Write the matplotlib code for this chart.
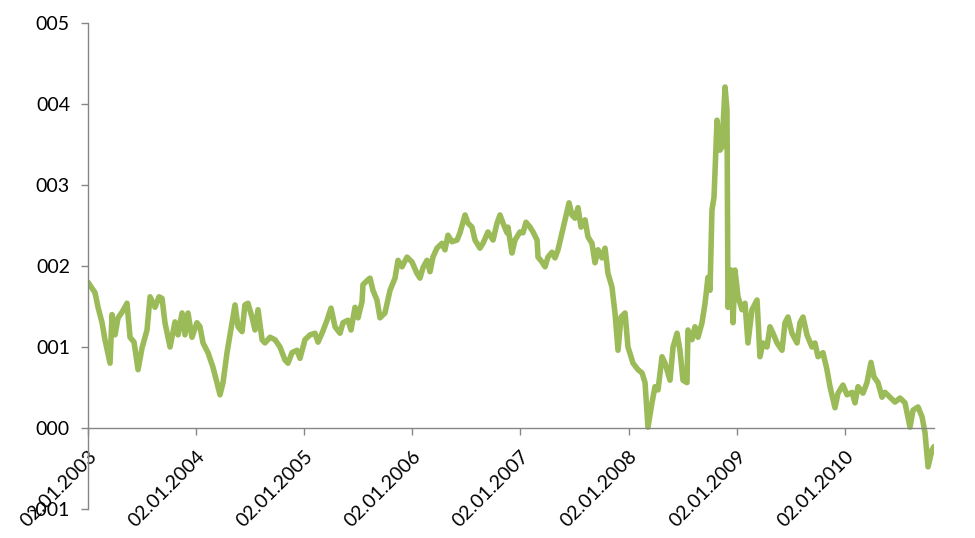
import matplotlib
matplotlib.use("Agg")
import matplotlib.pyplot as plt

# decimal years and values
years = [
    2003.000, 2003.065, 2003.093, 2003.130, 2003.157, 2003.204, 2003.222, 2003.250,
    2003.278, 2003.315, 2003.361, 2003.389, 2003.426, 2003.463, 2003.500, 2003.546,
    2003.574, 2003.620, 2003.657, 2003.685, 2003.712, 2003.759, 2003.805, 2003.833,
    2003.870, 2003.897, 2003.925, 2003.962, 2004.008, 2004.036, 2004.064, 2004.110,
    2004.156, 2004.193, 2004.221, 2004.249, 2004.286, 2004.332, 2004.360, 2004.388,
    2004.425, 2004.452, 2004.480, 2004.517, 2004.545, 2004.573, 2004.610, 2004.637,
    2004.684, 2004.730, 2004.776, 2004.822, 2004.850, 2004.887, 2004.933, 2004.961,
    2005.007, 2005.054, 2005.100, 2005.128, 2005.165, 2005.211, 2005.248, 2005.285,
    2005.331, 2005.359, 2005.405, 2005.433, 2005.470, 2005.498, 2005.535, 2005.544,
    2005.590, 2005.609, 2005.636, 2005.673, 2005.701, 2005.747, 2005.794, 2005.840,
    2005.868, 2005.905, 2005.951, 2005.997, 2006.043, 2006.071, 2006.099, 2006.136,
    2006.164, 2006.191, 2006.228, 2006.275, 2006.302, 2006.330, 2006.367, 2006.414,
    2006.441, 2006.488, 2006.515, 2006.552, 2006.580, 2006.626, 2006.654, 2006.700,
    2006.747, 2006.784, 2006.811, 2006.839, 2006.876, 2006.885, 2006.922, 2006.950,
    2006.996, 2007.024, 2007.052, 2007.089, 2007.117, 2007.154, 2007.163, 2007.200,
    2007.228, 2007.255, 2007.292, 2007.320, 2007.348, 2007.376, 2007.413, 2007.450,
    2007.477, 2007.505, 2007.533, 2007.561, 2007.598, 2007.625, 2007.662, 2007.690,
    2007.718, 2007.755, 2007.783, 2007.810, 2007.847, 2007.875, 2007.903, 2007.931,
    2007.968, 2007.995, 2008.042, 2008.088, 2008.125, 2008.153, 2008.180, 2008.217,
    2008.245, 2008.273, 2008.310, 2008.338, 2008.384, 2008.412, 2008.449, 2008.476,
    2008.504, 2008.541, 2008.550, 2008.587, 2008.615, 2008.643, 2008.680, 2008.708,
    2008.735, 2008.754, 2008.772, 2008.791, 2008.819, 2008.846, 2008.865, 2008.893,
    2008.911, 2008.920, 2008.948, 2008.967, 2008.985, 2009.013, 2009.050, 2009.078,
    2009.105, 2009.142, 2009.189, 2009.216, 2009.244, 2009.281, 2009.309, 2009.337,
    2009.374, 2009.420, 2009.448, 2009.475, 2009.512, 2009.559, 2009.586, 2009.614,
    2009.651, 2009.697, 2009.725, 2009.753, 2009.799, 2009.836, 2009.864, 2009.910,
    2009.938, 2009.984, 2010.021, 2010.068, 2010.095, 2010.123, 2010.169, 2010.206,
    2010.243, 2010.271, 2010.308, 2010.345, 2010.373, 2010.419, 2010.465, 2010.512,
    2010.558, 2010.604, 2010.632, 2010.678, 2010.715, 2010.743, 2010.771, 2010.808,
    2010.826,
]
values = [
    1.80, 1.67, 1.49, 1.30, 1.09, 0.80, 1.40, 1.15,
    1.36, 1.43, 1.54, 1.12, 1.06, 0.72, 0.99, 1.21,
    1.62, 1.49, 1.62, 1.60, 1.30, 1.00, 1.31, 1.15,
    1.42, 1.15, 1.42, 1.12, 1.30, 1.25, 1.05, 0.93,
    0.75, 0.56, 0.41, 0.56, 0.93, 1.30, 1.52, 1.25,
    1.19, 1.52, 1.54, 1.37, 1.21, 1.46, 1.09, 1.05,
    1.12, 1.09, 1.00, 0.84, 0.80, 0.93, 0.96, 0.86,
    1.09, 1.15, 1.17, 1.06, 1.17, 1.33, 1.48, 1.25,
    1.17, 1.30, 1.33, 1.21, 1.49, 1.36, 1.56, 1.77,
    1.83, 1.85, 1.70, 1.58, 1.36, 1.42, 1.70, 1.85,
    2.07, 1.99, 2.11, 2.05, 1.91, 1.85, 1.98, 2.07,
    1.93, 2.11, 2.22, 2.28, 2.20, 2.38, 2.30, 2.32,
    2.41, 2.63, 2.53, 2.48, 2.32, 2.22, 2.28, 2.42,
    2.32, 2.53, 2.63, 2.53, 2.41, 2.48, 2.16, 2.32,
    2.42, 2.41, 2.54, 2.48, 2.42, 2.32, 2.11, 2.05,
    1.99, 2.11, 2.17, 2.10, 2.20, 2.36, 2.57, 2.78,
    2.63, 2.59, 2.72, 2.48, 2.57, 2.36, 2.28, 2.04,
    2.20, 2.10, 2.22, 1.91, 1.74, 1.42, 0.96, 1.37,
    1.42, 1.00, 0.80, 0.72, 0.68, 0.56, 0.01, 0.31,
    0.51, 0.47, 0.88, 0.80, 0.59, 1.00, 1.17, 0.96,
    0.59, 0.56, 1.21, 1.09, 1.25, 1.12, 1.30, 1.54,
    1.86, 1.70, 2.69, 2.85, 3.80, 3.43, 3.47, 4.21,
    3.93, 1.49, 1.95, 1.30, 1.95, 1.62, 1.46, 1.54,
    1.05, 1.46, 1.58, 0.88, 1.05, 1.00, 1.25, 1.17,
    1.05, 0.96, 1.30, 1.37, 1.17, 1.05, 1.30, 1.37,
    1.15, 1.00, 1.05, 0.88, 0.93, 0.72, 0.51, 0.25,
    0.43, 0.53, 0.41, 0.44, 0.31, 0.51, 0.43, 0.56,
    0.81, 0.63, 0.56, 0.38, 0.44, 0.38, 0.32, 0.37,
    0.31, 0.01, 0.22, 0.26, 0.14, -0.06, -0.48, -0.27,
    -0.23,
]

x_ticks = [2003, 2004, 2005, 2006, 2007, 2008, 2009, 2010]
x_labels = ["02.01.%d" % y for y in x_ticks]
y_ticks = [-1, 0, 1, 2, 3, 4, 5]
y_labels = ["-001", "000", "001", "002", "003", "004", "005"]

plt.rcParams["font.family"] = ["Lato", "DejaVu Sans"]
axis_color = "#868686"

fig = plt.figure(figsize=(9.75, 5.38), dpi=100)
ax = fig.add_axes([88 / 975, 1 - 509 / 538, (934 - 88) / 975, (509 - 23) / 538])

ax.plot(years, values, color="#9BBB59", linewidth=4.0,
        solid_joinstyle="round", solid_capstyle="round")

ax.set_xlim(2003, years[-1])
ax.set_ylim(-1, 5)

ax.spines["top"].set_visible(False)
ax.spines["right"].set_visible(False)
ax.spines["bottom"].set_position(("data", 0))
for s in ("left", "bottom"):
    ax.spines[s].set_color(axis_color)
    ax.spines[s].set_linewidth(1.0)

ax.set_yticks(y_ticks)
ax.set_yticklabels(y_labels)
ax.set_xticks(x_ticks)
ax.set_xticklabels(x_labels, rotation=45, ha="right", va="top", rotation_mode="anchor")

ax.tick_params(axis="y", direction="out", length=5, width=1, color=axis_color,
               labelsize=14, pad=8, labelcolor="black")
ax.tick_params(axis="x", direction="out", length=5, width=1, color=axis_color,
               labelsize=14, pad=9, labelcolor="black")

fig.savefig("out.png", dpi=100)
plt.close(fig)
